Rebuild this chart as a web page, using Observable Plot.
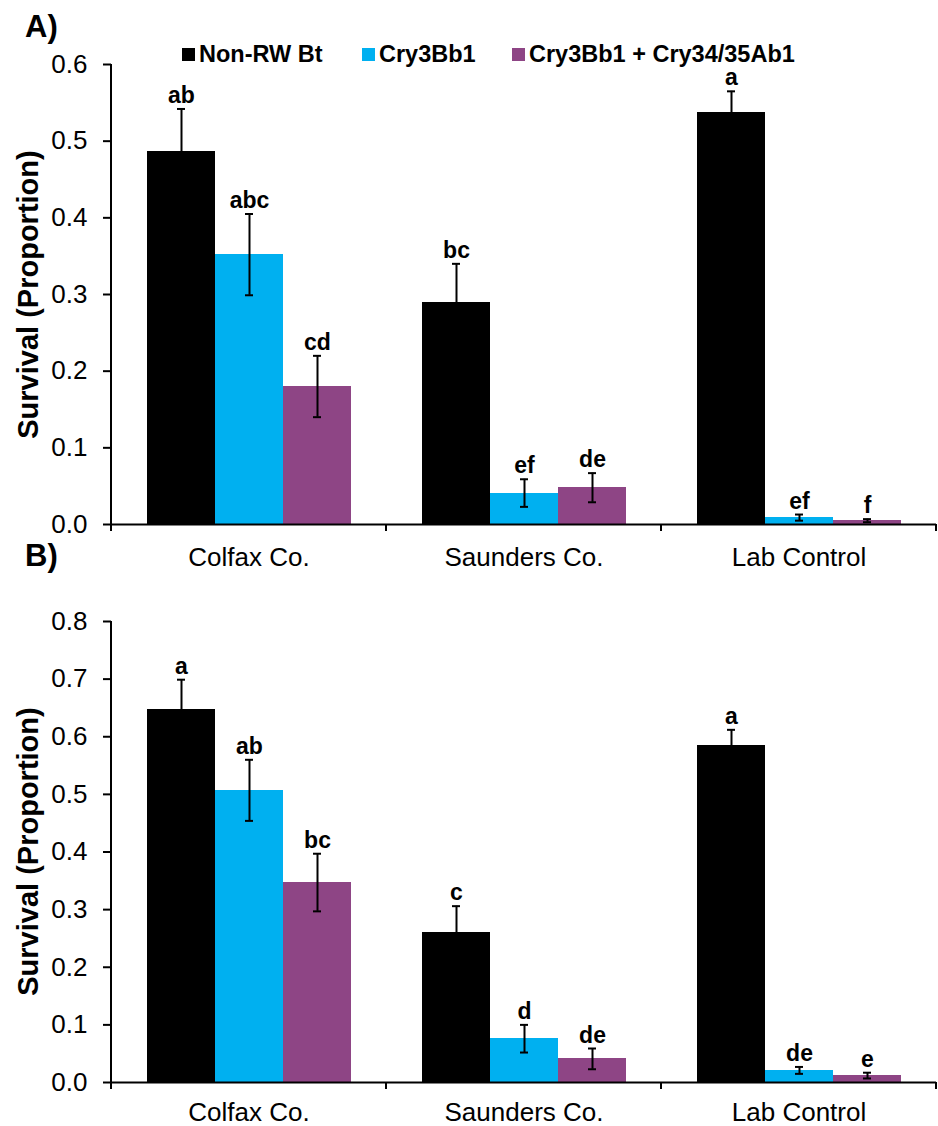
<!DOCTYPE html>
<html>
<head>
<meta charset="utf-8">
<script src="https://cdn.jsdelivr.net/npm/d3@7"></script>
<script src="https://cdn.jsdelivr.net/npm/@observablehq/plot@0.6"></script>
<style>
  html, body { margin: 0; padding: 0; background: #fff; }
  #root { position: relative; width: 938px; height: 1126px; font-family: "Liberation Sans", Arial, sans-serif; color: #000; }
  .panel { position: absolute; left: 0; }
  .tag { position: absolute; font-weight: bold; font-size: 31px; line-height: 31px; }
  .ylab { position: absolute; width: 420px; text-align: center; font-weight: bold; font-size: 29px; line-height: 29px; transform: rotate(-90deg); transform-origin: center center; white-space: nowrap; }
  .leg { position: absolute; display: flex; align-items: center; font-weight: bold; font-size: 23.5px; line-height: 20px; white-space: nowrap; }
  .leg i { display: inline-block; width: 13px; height: 13px; margin-right: 4px; }
</style>
</head>
<body>
<div id="root"></div>
<script>
// ---- data ----
const categories = ["Colfax Co.", "Saunders Co.", "Lab Control"];
const series = ["Non-RW Bt", "Cry3Bb1", "Cry3Bb1 + Cry34/35Ab1"];
const colors = ["#000000", "#00B0F0", "#8E4585"];

// Panel A (rows: categories, columns: series)
const aMeans   = [[0.486, 0.352, 0.180], [0.290, 0.041, 0.048], [0.537, 0.009, 0.005]];
const aErrors  = [[0.056, 0.053, 0.040], [0.050, 0.018, 0.019], [0.028, 0.004, 0.002]];
const aLetters = [["ab", "abc", "cd"], ["bc", "ef", "de"], ["a", "ef", "f"]];
const aTicks   = [0, 0.1, 0.2, 0.3, 0.4, 0.5, 0.6];

// Panel B
const bMeans   = [[0.648, 0.507, 0.347], [0.261, 0.076, 0.041], [0.585, 0.021, 0.012]];
const bErrors  = [[0.051, 0.053, 0.050], [0.045, 0.024, 0.018], [0.027, 0.006, 0.005]];
const bLetters = [["a", "ab", "bc"], ["c", "d", "de"], ["a", "de", "e"]];
const bTicks   = [0, 0.1, 0.2, 0.3, 0.4, 0.5, 0.6, 0.7, 0.8];

const yLabel = "Survival (Proportion)";

function panel(means, errors, letters, ticks, top, height, marginTop, marginBottom, labelPad) {
  const rows = categories.flatMap((c, i) => series.map((s, j) => ({
    category: c, series: s, value: means[i][j], error: errors[i][j], letter: letters[i][j]
  })));
  const yMax = ticks[ticks.length - 1];
  const plot = Plot.plot({
    width: 938, height, marginTop, marginBottom, marginLeft: 110, marginRight: 1,
    style: { fontFamily: "'Liberation Sans', Arial, sans-serif", color: "#000", background: "#fff", overflow: "visible" },
    fx: { domain: categories, padding: 0, label: null },
    x: { domain: series, paddingInner: 0, paddingOuter: 0.5, axis: null },
    y: { domain: [0, yMax], label: null },
    color: { domain: series, range: colors },
    marks: [
      Plot.barY(rows, { fx: "category", x: "series", y: "value", fill: "series", shapeRendering: "crispEdges" }),
      Plot.ruleY([0], { stroke: "#000", strokeWidth: 2 }),
      Plot.ruleX(rows, { fx: "category", x: "series", y1: d => d.value - d.error, y2: d => d.value + d.error, stroke: "#000", strokeWidth: 2 }),
      Plot.tickY(rows, { fx: "category", x: "series", y: d => d.value - d.error, insetLeft: 30, insetRight: 30, stroke: "#000", strokeWidth: 2 }),
      Plot.tickY(rows, { fx: "category", x: "series", y: d => d.value + d.error, insetLeft: 30, insetRight: 30, stroke: "#000", strokeWidth: 2 }),
      Plot.text(rows, { fx: "category", x: "series", y: d => d.value + d.error, text: "letter", dy: -6, lineAnchor: "bottom", fontSize: 23, fontWeight: "bold", fill: "#000" }),
      Plot.axisY({ ticks, tickFormat: d3.format(".1f"), tickSize: 8, tickPadding: 16, fontSize: 26, strokeWidth: 2, label: null }),
      Plot.axisFx({ anchor: "bottom", tickSize: 0, tickPadding: labelPad, fontSize: 26, label: null })
    ]
  });
  // Excel-style axis line and category boundary ticks, from the plot's own scales
  const fx = plot.scale("fx"), y = plot.scale("y");
  const edges = fx.domain.map(d => fx.apply(d));
  edges.push(fx.apply(fx.domain[fx.domain.length - 1]) + fx.bandwidth);
  const svg = d3.select(plot);
  const g = svg.append("g").attr("stroke", "#000").attr("stroke-width", 2);
  g.append("line").attr("x1", edges[0]).attr("x2", edges[0]).attr("y1", y.apply(yMax)).attr("y2", y.apply(0) + 7);
  edges.forEach(e => g.append("line").attr("x1", e).attr("x2", e).attr("y1", y.apply(0)).attr("y2", y.apply(0) + 7));

  const wrap = document.createElement("div");
  wrap.className = "panel";
  wrap.style.top = top + "px";
  wrap.appendChild(plot);
  document.getElementById("root").appendChild(wrap);

  const lab = document.createElement("div");
  lab.className = "ylab";
  lab.textContent = yLabel;
  const cy = top + (y.apply(yMax) + y.apply(0)) / 2;
  lab.style.left = (28 - 210) + "px";
  lab.style.top = (cy - 14.5) + "px";
  document.getElementById("root").appendChild(lab);
}

panel(aMeans, aErrors, aLetters, aTicks, 0, 570, 64, 46, 23);
panel(bMeans, bErrors, bLetters, bTicks, 570, 556, 51, 44, 20);

const root = document.getElementById("root");
function tag(text, left, top) {
  const d = document.createElement("div");
  d.className = "tag"; d.textContent = text;
  d.style.left = left + "px"; d.style.top = top + "px";
  root.appendChild(d);
}
tag("A)", 25, 11);
tag("B)", 25, 540);

const legendX = [182, 362, 512];
series.forEach((s, i) => {
  const d = document.createElement("div");
  d.className = "leg";
  d.style.left = legendX[i] + "px";
  d.style.top = "44px";
  const sw = document.createElement("i");
  sw.style.background = colors[i];
  d.appendChild(sw);
  d.appendChild(document.createTextNode(s));
  root.appendChild(d);
});
</script>
</body>
</html>
